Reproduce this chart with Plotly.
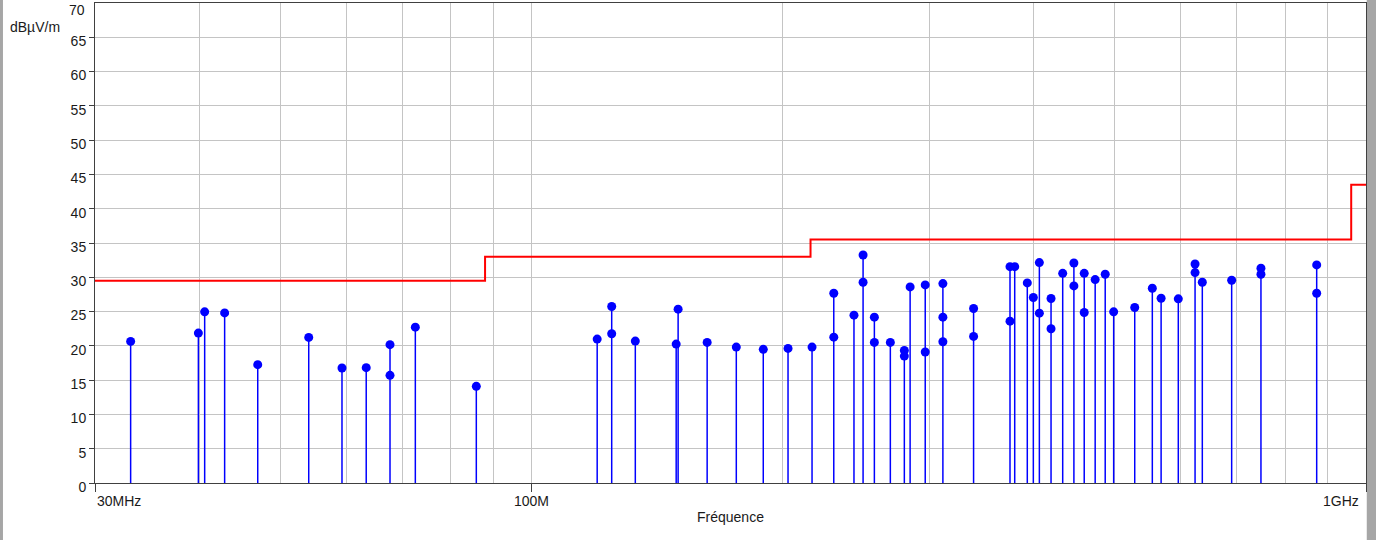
import math
import plotly.graph_objects as go

# ---- data (frequency in MHz, level in dBµV/m) ----
freqs = [33.1, 39.9, 40.6, 42.9, 47.0, 54.1, 59.3, 63.4, 67.7, 72.6,
         85.9, 119.9, 124.8, 133.2, 149.1, 149.9, 162.4, 176.0, 189.6, 203.0,
         216.9, 230.3, 243.5, 249.7, 257.6, 269.2, 279.8, 284.3, 296.4, 311.2,
         338.7, 374.5, 379.4, 392.8, 399.4, 406.1, 419.4, 433.1, 446.7, 459.6,
         473.7, 487.0, 498.5, 528.3, 554.6, 568.2, 595.8, 624.0, 636.6, 690.3,
         748.4, 872.8]
levels = [[20.65], [21.86], [24.96], [24.8], [17.26], [21.23], [16.77], [16.82], [20.17, 15.70], [22.73],
          [14.1], [20.99], [25.74, 21.76], [20.7], [20.26], [25.35], [20.5], [19.82], [19.49], [19.63],
          [19.82], [27.67, 21.27], [24.48], [33.25, 29.28], [24.19, 20.5], [20.5], [19.34, 18.51], [28.6], [28.89, 19.1], [29.08, 24.19, 20.6],
          [25.45, 21.38], [31.55, 23.6], [31.55], [29.18], [27.05], [32.14, 24.77], [26.9, 22.49], [30.58], [32.09, 28.74], [30.58, 24.87],
          [29.66], [30.44], [24.96], [25.59], [28.4], [26.95], [26.86], [31.94, 30.68], [29.28], [29.57],
          [31.31, 30.44], [31.8, 27.67]]

limit_freqs = [30, 88, 216, 960, 1000]
limit_vals = [29.5, 33.0, 35.5, 43.5, 43.5]

x_tick_vals = [30, 100, 1000]
x_tick_text = ["30MHz", "100M", "1GHz"]
x_grid_vals = [40, 50, 60, 70, 80, 90, 200, 300, 400, 500, 600, 700, 800, 900]
y_tick_vals = list(range(0, 70, 5))
y_top_label = 70

BLUE = "#0000ff"
RED = "#ff0000"
GRID = "#c4c4c4"
AXIS = "#404040"
FONT = "Liberation Sans, Arial, sans-serif"

# stems built from data
sx, sy = [], []
for f, vals in zip(freqs, levels):
    sx += [f, f, None]
    sy += [0, max(vals), None]
mx, my = [], []
for f, vals in zip(freqs, levels):
    for v in vals:
        mx.append(f)
        my.append(v)

fig = go.Figure()
fig.add_trace(go.Scatter(x=sx, y=sy, mode="lines",
                         line=dict(color=BLUE, width=1.5), hoverinfo="skip"))
fig.add_trace(go.Scatter(x=mx, y=my, mode="markers",
                         marker=dict(color=BLUE, size=9, line=dict(width=0))))
fig.add_trace(go.Scatter(x=limit_freqs, y=limit_vals, mode="lines",
                         line=dict(color=RED, width=2, shape="hv")))

fig.update_layout(
    width=1376, height=540,
    margin=dict(l=95, r=10, t=3, b=57),
    paper_bgcolor="white", plot_bgcolor="white",
    showlegend=False,
    font=dict(family=FONT, size=14, color="#1a1a1a"),
)
fig.update_xaxes(
    type="log", range=[math.log10(30), math.log10(1000)],
    tickmode="array", tickvals=x_tick_vals, showticklabels=False,
    ticks="outside", ticklen=8, tickcolor=AXIS,
    showgrid=True, gridcolor=GRID, gridwidth=1,
    showline=True, linecolor=AXIS, linewidth=1, mirror=True,
    zeroline=False,
    minor=dict(tickmode="array", tickvals=x_grid_vals, showgrid=True,
               gridcolor=GRID, gridwidth=1, ticks=""),
)
fig.update_yaxes(
    range=[0, 70], tickmode="array", tickvals=y_tick_vals,
    ticks="outside", ticklen=5, tickcolor=AXIS, ticklabelshift=4,
    showgrid=True, gridcolor=GRID, gridwidth=1,
    showline=True, linecolor=AXIS, linewidth=1, mirror=True,
    zeroline=False,
    tickfont=dict(family=FONT, size=14, color="#1a1a1a"),
)

ann = []
anchors = ["left", "center", "right"]
shifts = [0, 0, -5]
for v, t, a, s in zip(x_tick_vals, x_tick_text, anchors, shifts):
    ann.append(dict(x=math.log10(v), xref="x", y=0, yref="paper", text=t,
                    showarrow=False, xanchor=a, yanchor="middle", xshift=s, yshift=-18,
                    font=dict(family=FONT, size=14, color="#1a1a1a")))
ann.append(dict(x=0.5, xref="paper", y=0, yref="paper", text="Fréquence",
                showarrow=False, xanchor="center", yanchor="middle", yshift=-34,
                font=dict(family=FONT, size=14, color="#1a1a1a")))
ann.append(dict(x=0, xref="paper", y=y_top_label, yref="y", text=str(y_top_label),
                showarrow=False, xanchor="right", yanchor="middle", xshift=-8, yshift=-7,
                font=dict(family=FONT, size=14, color="#1a1a1a")))
ann.append(dict(x=-0.0685, xref="paper", y=0.95, yref="paper", text="dBµV/m",
                showarrow=False, xanchor="left", yanchor="middle",
                font=dict(family=FONT, size=14, color="#1a1a1a")))
fig.update_layout(annotations=ann)

fig.update_layout(shapes=[
    dict(type="rect", xref="paper", yref="paper", x0=1.0006, x1=1.01, y0=-0.13, y1=1.02,
         fillcolor="#a6a6a6", line=dict(width=0), layer="below"),
    dict(type="rect", xref="paper", yref="paper", x0=-0.08, x1=-0.0724, y0=-0.13, y1=1.02,
         fillcolor="#a6a6a6", line=dict(width=0), layer="below"),
])

fig.write_html("out.html")
